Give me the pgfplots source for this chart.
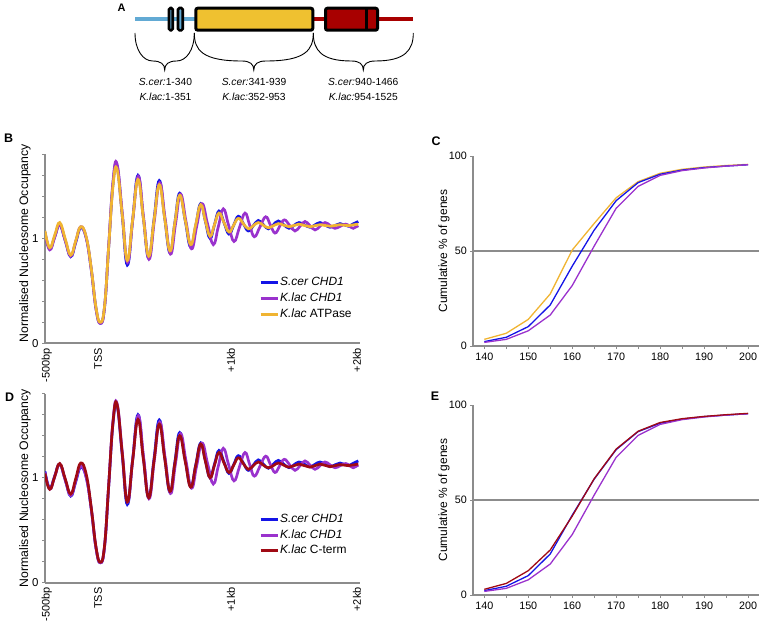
\documentclass[border=0pt]{standalone}
\usepackage{fontspec}
\setmainfont{Liberation Sans}
\usepackage{pgfplots}
\usepackage{pgfplotstable}
\pgfplotsset{compat=1.18}

\definecolor{cblue}{HTML}{1414E6}
\definecolor{cpurple}{HTML}{9A32CD}
\definecolor{cyellow}{HTML}{F0B432}
\definecolor{cred}{HTML}{A00A14}
\definecolor{axgray}{HTML}{8C8C8C}
\definecolor{lblue}{HTML}{62AAD4}
\definecolor{boxyellow}{HTML}{EFC130}
\definecolor{boxred}{HTML}{A80000}

% ---- occupancy profiles (x = position along axis, y = normalised occupancy)
\pgfplotstableread{
x y
0 1.06
4.7 0.90
9.7 1.015
14.7 1.13
20.2 0.98
25.7 0.825
30.7 0.96
35.7 1.10
41.3 1.00
46.3 0.70
51 0.33
55.3 0.19
59.5 0.34
63.7 0.92
68 1.52
72 1.69
77.2 1.22
82.3 0.745
87.6 1.17
93 1.60
98.3 1.20
103.7 0.81
109 1.18
114.3 1.55
119.6 1.20
125 0.86
129.8 1.145
134.7 1.43
140.2 1.17
145.7 0.915
150.7 1.12
155.7 1.33
160.3 1.165
165 1.00
169.5 1.13
174 1.26
179 1.15
184 1.04
188.7 1.125
193.3 1.21
198.3 1.14
203.3 1.07
208.3 1.12
213.3 1.17
218.3 1.13
223.3 1.09
228.3 1.128
233.3 1.165
238.7 1.13
244 1.095
249 1.123
254 1.15
259.5 1.128
265 1.105
270 1.128
275 1.15
280 1.128
285 1.105
290 1.123
295 1.14
299.2 1.128
303.3 1.115
308.3 1.138
313.3 1.16
}\scerTbl

\pgfplotstableread{
x y
0 1.05
4.7 0.89
9.7 1.01
14.7 1.13
20.2 0.98
25.7 0.83
30.7 0.97
35.7 1.11
41.3 1.00
46.3 0.70
51 0.33
55.3 0.19
59.5 0.34
63.7 0.93
68 1.54
72 1.71
77.3 1.24
82.5 0.77
87.8 1.18
93.3 1.59
98.6 1.195
104 0.80
109.3 1.165
114.7 1.53
120.1 1.19
125.5 0.85
130.5 1.135
135.5 1.42
141 1.16
146.5 0.90
151.7 1.115
157 1.33
162.6 1.135
168.3 0.94
173.3 1.11
178.3 1.28
183.6 1.125
189 0.97
194.5 1.105
200 1.24
204.6 1.128
209.3 1.015
215 1.11
220.7 1.205
225.3 1.128
230 1.05
234.6 1.113
239.3 1.175
244.6 1.123
250 1.07
255 1.115
260 1.16
265 1.12
270 1.08
275 1.115
280 1.15
285 1.123
290 1.095
295.3 1.115
300.7 1.135
304.5 1.115
308.3 1.095
311 1.108
313.3 1.12
}\klacTbl

\pgfplotstableread{
x y
0 1.07
4.7 0.91
9.7 1.03
14.7 1.15
20.2 0.995
25.7 0.84
30.7 0.975
35.7 1.11
41.3 1.01
46.3 0.71
51 0.34
55.3 0.20
59.5 0.35
63.7 0.92
68 1.50
72 1.66
77.2 1.225
82.3 0.79
87.6 1.175
93 1.56
98.3 1.195
103.7 0.83
109 1.17
114.3 1.51
119.6 1.195
125 0.88
129.8 1.145
134.7 1.41
140.2 1.175
145.7 0.94
150.7 1.13
155.7 1.32
160.3 1.17
165 1.02
169.5 1.13
174 1.24
179 1.15
184 1.06
188.7 1.125
193.3 1.19
198.3 1.14
203.3 1.09
208.3 1.12
213.3 1.15
218.3 1.125
223.3 1.10
228.3 1.12
233.3 1.14
238.7 1.125
244 1.11
249 1.122
254 1.135
259.5 1.122
265 1.11
270 1.12
275 1.13
280 1.122
285 1.115
290 1.122
295 1.13
299.2 1.125
303.3 1.12
308.3 1.128
313.3 1.135
}\atpaseTbl

\pgfplotstableread{
x y
0 1.04
4.7 0.89
9.7 1.01
14.7 1.135
20.2 0.99
25.7 0.845
30.7 0.99
35.7 1.14
41.3 1.03
46.3 0.71
51 0.34
55.3 0.195
59.5 0.35
63.7 0.93
68 1.53
72 1.70
77.2 1.235
82.3 0.77
87.6 1.16
93 1.555
98.3 1.18
103.7 0.81
109 1.16
114.3 1.51
119.6 1.19
125 0.87
129.8 1.135
134.7 1.40
140.2 1.155
145.7 0.91
150.7 1.115
155.7 1.32
160.3 1.16
165 1.00
169.5 1.12
174 1.24
179 1.14
184 1.05
188.7 1.12
193.3 1.19
198.3 1.135
203.3 1.08
208.3 1.115
213.3 1.15
218.3 1.12
223.3 1.095
228.3 1.115
233.3 1.14
238.7 1.12
244 1.10
249 1.115
254 1.13
259.5 1.115
265 1.10
270 1.115
275 1.13
280 1.118
285 1.105
290 1.115
295 1.125
299.2 1.12
303.3 1.115
308.3 1.122
313.3 1.13
}\ctermTbl

% ---- cumulative distributions
\pgfplotstableread{
x scer klac atpase cterm
140 2.3 1.9 3.5 3.0
145 4.6 3.5 6.7 6.1
150 10.2 8.0 14.0 12.8
155 21.6 16.3 27.4 23.7
160 42.0 31.8 50.5 41.5
165 61.0 52.6 64.5 61.2
170 76.5 72.5 78.0 76.8
175 86.0 84.0 86.5 86.2
180 90.4 89.8 90.9 90.8
185 92.6 92.3 93.0 92.8
190 93.9 93.7 94.2 94.0
195 94.7 94.7 95.0 94.9
200 95.4 95.4 95.6 95.6
}\cumTbl

\pgfplotsset{
  occ/.style={
    scale only axis, width=315bp, height=189bp, anchor=south west,
    xmin=0, xmax=315, ymin=0, ymax=1.8,
    axis lines*=left, axis line style={-, draw=axgray, line width=1.8bp},
    xtick={1.7,53,186,312}, xticklabels={-500bp,TSS,+1kb,+2kb},
    x tick label style={rotate=90, anchor=east, inner xsep=1.5bp, font=\fontsize{11}{12}\selectfont},
    xtick style={draw=none},
    ytick={0,0.2,0.4,0.6,0.8,1,1.2,1.4,1.6,1.8},
    yticklabels={0,{},{},{},{},1,{},{},{},{}},
    y tick label style={font=\fontsize{11.5}{12}\selectfont},
    tick align=outside, major tick length=3bp,
    ytick style={draw=axgray, line width=0.8bp},
    ylabel={Normalised Nucleosome Occupancy},
    ylabel style={font=\fontsize{12.3}{14}\selectfont, anchor=center},
    legend cell align=left,
    legend image code/.code={\draw[#1, line width=3bp] (0bp,0bp) -- (17bp,0bp);},
    legend style={draw=none, fill=none, anchor=north west, inner sep=0pt,
      column sep=0bp, row sep=0bp,
      nodes={inner xsep=1bp, inner ysep=1.85bp, text height=9bp, text depth=3bp,
        font=\fontsize{12}{14}\selectfont}},
  },
  prof/.style={line width=2.7bp, smooth, tension=0.75},
  cum/.style={
    scale only axis, width=285.7bp, height=190bp, anchor=south west,
    xmin=137.5, xmax=202.5, ymin=0, ymax=100,
    axis lines*=left, axis line style={-, draw=axgray, line width=1.8bp},
    xtick={140,150,...,200}, minor xtick={145,155,...,195},
    ytick={0,50,100},
    tick align=outside, major tick length=3bp, minor tick length=3bp,
    tick style={draw=axgray, line width=0.8bp},
    tick label style={font=\fontsize{10.8}{12}\selectfont},
    /pgf/number format/assume math mode=true,
    ylabel={Cumulative \% of genes},
    ylabel style={font=\fontsize{12}{14}\selectfont, at={(axis description cs:-0.1026,0.5)}, anchor=center},
  },
}

\newcommand{\brc}[3]{%
  \draw[line width=0.9bp] (#1,-33) .. controls (#1,-50) and (#1+8,-61) .. (#3-12,-61)
    .. controls (#3-4,-61) and (#3,-64) .. (#3,-70)
    .. controls (#3,-64) and (#3+4,-61) .. (#3+12,-61)
    .. controls (#2-8,-61) and (#2,-50) .. (#2,-33);}

\begin{document}
\begin{tikzpicture}[x=1bp,y=1bp]
\useasboundingbox (0,0) rectangle (761,-622);

% ---------------- Panel A (domain schematic)
\node[font=\bfseries\fontsize{11}{12}\selectfont] at (121.7,-7.5) {A};
\draw[lblue, line width=4bp] (135,-19) -- (197,-19);
\draw[boxred, line width=4bp] (311,-19) -- (327,-19);
\draw[boxred, line width=4bp] (376,-19) -- (413,-19);
\draw[line width=2.6bp, fill=lblue, rounded corners=1.5bp] (169,-8) rectangle (172.7,-30.4);
\draw[line width=2.6bp, fill=lblue, rounded corners=1.5bp] (178,-8) rectangle (182.7,-30.4);
\draw[line width=3bp, fill=boxyellow, rounded corners=2bp] (195.8,-8.2) rectangle (312.8,-30.2);
\draw[line width=3bp, fill=boxred, rounded corners=2bp] (325.5,-8.2) rectangle (377.5,-30.2);
\draw[line width=3bp] (366.7,-8.2) -- (366.7,-30.2);
\brc{135}{194.3}{164.7}
\brc{194.3}{313.3}{253.8}
\brc{313.3}{413.3}{363.3}
\begin{scope}[every node/.style={font=\fontsize{10.3}{11}\selectfont, inner sep=0pt}]
\node at (165.5,-81.7) {\textit{S.cer:}1-340};
\node at (165.5,-96.7) {\textit{K.lac:}1-351};
\node at (254,-81.7) {\textit{S.cer:}341-939};
\node at (254,-96.7) {\textit{K.lac:}352-953};
\node at (363.3,-81.7) {\textit{S.cer:}940-1466};
\node at (363.3,-96.7) {\textit{K.lac:}954-1525};
\end{scope}

% ---------------- Panel labels
\begin{scope}[every node/.style={font=\bfseries\fontsize{12.5}{13}\selectfont}]
\node at (8.5,-138) {B};
\node at (436,-141) {C};
\node at (9.5,-397) {D};
\node at (435,-396) {E};
\end{scope}

% ---------------- Panel B
\begin{axis}[occ, at={(45bp,-343.3bp)},
  ylabel style={at={(axis description cs:-0.0635,0.529)}},
  legend style={at={(axis description cs:0.679,0.362)}}]
\addplot[cblue, prof] table[x=x,y=y] {\scerTbl};
\addlegendentry{\textit{S.cer CHD1}}
\addplot[cpurple, prof] table[x=x,y=y] {\klacTbl};
\addlegendentry{\textit{K.lac CHD1}}
\addplot[cyellow, prof] table[x=x,y=y] {\atpaseTbl};
\addlegendentry{\textit{K.lac} ATPase}
\end{axis}

% ---------------- Panel D
\begin{axis}[occ, at={(45bp,-582.7bp)},
  ylabel style={at={(axis description cs:-0.0635,0.5)}},
  legend style={at={(axis description cs:0.679,0.377)}}]
\addplot[cblue, prof] table[x=x,y=y] {\scerTbl};
\addlegendentry{\textit{S.cer CHD1}}
\addplot[cpurple, prof] table[x=x,y=y] {\klacTbl};
\addlegendentry{\textit{K.lac CHD1}}
\addplot[cred, prof] table[x=x,y=y] {\ctermTbl};
\addlegendentry{\textit{K.lac} C-term}
\end{axis}

% ---------------- Panel C
\begin{axis}[cum, at={(473.3bp,-346bp)}]
\addplot[axgray, line width=1.8bp] coordinates {(137.5,50) (202.5,50)};
\addplot[cyellow, line width=1.3bp] table[x=x,y=atpase] {\cumTbl};
\addplot[cblue, line width=1.3bp] table[x=x,y=scer] {\cumTbl};
\addplot[cpurple, line width=1.3bp] table[x=x,y=klac] {\cumTbl};
\end{axis}

% ---------------- Panel E
\begin{axis}[cum, at={(473.3bp,-595bp)}]
\addplot[axgray, line width=1.8bp] coordinates {(137.5,50) (202.5,50)};
\addplot[cblue, line width=1.3bp] table[x=x,y=scer] {\cumTbl};
\addplot[cpurple, line width=1.3bp] table[x=x,y=klac] {\cumTbl};
\addplot[cred, line width=1.3bp] table[x=x,y=cterm] {\cumTbl};
\end{axis}
\end{tikzpicture}
\end{document}
